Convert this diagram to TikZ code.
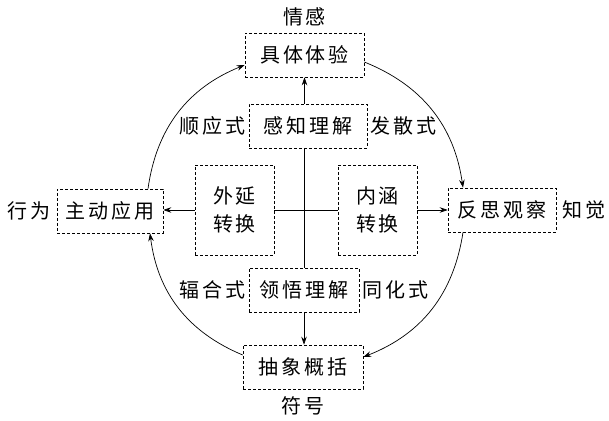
\documentclass[tikz,border=0pt]{standalone}
\usepackage{fontspec}
\newfontfamily\cjk[LetterSpace=14]{Noto Sans CJK SC}
\usetikzlibrary{positioning, arrows.meta}

\begin{document}
\begin{tikzpicture}[x=1pt, y=1pt, >={Stealth[length=8pt,width=5.5pt]},
	box/.style={draw, densely dashed, line width=.6pt, minimum height=44pt, inner xsep=3pt},
	bigbox/.style={box, align=center, minimum width=79pt, minimum height=90pt},
	tag/.style={inner sep=1pt}]
	\cjk\fontsize{20}{28}\selectfont
	\useasboundingbox (0,0) rectangle (609,420);
	\node[box, minimum width=119pt] (ju) at (304.5,365) {具体体验};
	\node[box, minimum width=118pt] (ganzhi) at (308,294) {感知理解};
	\node[box, minimum width=106pt] (zhudong) at (110,209) {主动应用};
	\node[bigbox] (waiyan) at (234.5,210) {外延\\转换};
	\node[bigbox] (neihan) at (377.5,210) {内涵\\转换};
	\node[box, minimum width=108pt] (fansi) at (502,210) {反思观察};
	\node[box, minimum width=110pt] (lingwu) at (304,130) {领悟理解};
	\node[box, minimum width=120pt] (chouxiang) at (303,53) {抽象概括};

	% --- labels round the cycle ---
	\node[tag, above=5pt of ju] (qinggan) {情感};
	\node[tag, below=6pt of chouxiang] (fuhao) {符号};
	\node[tag, left=5pt of zhudong] (xingwei) {行为};
	\node[tag, right=5pt of fansi] (zhijue) {知觉};
	\node[tag, left=2pt of ganzhi] (shunying) {顺应式};
	\node[tag, right=2pt of ganzhi] (fasan) {发散式};
	\node[tag, left=2pt of lingwu] (fuhe) {辐合式};
	\node[tag, right=2pt of lingwu] (tonghua) {同化式};

	% --- axes ---
	\draw[line width=.7pt] (lingwu.north) -- (lingwu.north |- ganzhi.south);
	\draw[line width=.7pt] (waiyan.east) -- (neihan.west);
	\draw[->, line width=.7pt] (ganzhi.north -| ju.south) -- (ju.south);
	\draw[->, line width=.7pt] (lingwu.south) -- (lingwu.south |- chouxiang.north);
	\draw[->, line width=.7pt] (waiyan.west) -- (waiyan.west -| zhudong.east);
	\draw[->, line width=.7pt] (neihan.east) -- (neihan.east -| fansi.west);

	% --- cycle ---
	\draw[->, line width=.7pt] ([xshift=38pt]zhudong.north) to[bend left=30] ([yshift=-10pt]ju.west);
	\draw[->, line width=.7pt] ([yshift=-7pt]ju.east) to[bend left=30] ([xshift=-39pt]fansi.north);
	\draw[->, line width=.7pt] ([xshift=-39pt]fansi.south) to[bend left=30] ([yshift=10pt]chouxiang.east);
	\draw[->, line width=.7pt] ([yshift=12pt]chouxiang.west) to[bend left=30] ([xshift=40pt]zhudong.south);
\end{tikzpicture}
\end{document}
